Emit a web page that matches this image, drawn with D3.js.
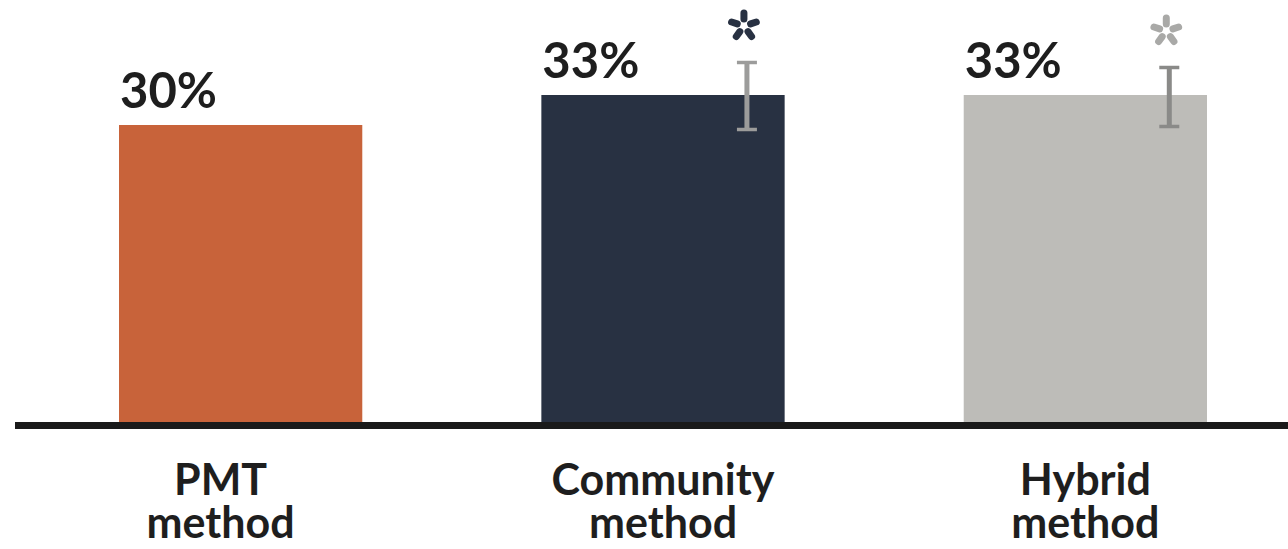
<!DOCTYPE html>
<html>
<head>
<meta charset="utf-8">
<script src="https://cdn.jsdelivr.net/npm/d3@7"></script>
<style>
  html, body { margin: 0; padding: 0; background: #ffffff; }
  svg { display: block; }
</style>
</head>
<body>
<script>
// ---- data ----
const categories = ["PMT method", "Community method", "Hybrid method"];
const values = [30, 33, 33];
const valueLabels = ["30%", "33%", "33%"];
const errLow = [null, 29.4, 29.7];
const errHigh = [null, 36.4, 35.9];
const significant = [false, true, true];

// ---- styles ----
const W = 1288, H = 549;
const barColors = ["#C8633A", "#283142", "#BDBCB8"];
const errColors = [null, "#9c9c9b", "#8a8a88"];
const starColors = [null, "#283142", "#a9a9a7"];
const font = "Lato, 'Open Sans', 'DejaVu Sans', sans-serif";

const svg = d3.select("body").append("svg").attr("width", W).attr("height", H);

const x = d3.scaleBand().domain(categories).range([119, 1207]).paddingInner(0.424).paddingOuter(0);
const y = d3.scaleLinear().domain([0, 42.5]).range([425, 0]);

const data = categories.map((c, i) => ({
  c, v: values[i], label: valueLabels[i], lo: errLow[i], hi: errHigh[i], sig: significant[i], i
}));

// bars
svg.selectAll("rect.bar").data(data).enter().append("rect")
  .attr("class", "bar")
  .attr("x", d => x(d.c))
  .attr("y", d => y(d.v))
  .attr("width", x.bandwidth())
  .attr("height", d => y(0) - y(d.v))
  .attr("fill", d => barColors[d.i]);

// value labels
svg.selectAll("text.val").data(data).enter().append("text")
  .attr("class", "val")
  .attr("x", d => x(d.c) + 1)
  .attr("y", d => y(d.v) - 17)
  .attr("font-family", font)
  .attr("font-weight", 700)
  .attr("font-size", 49)
  .attr("fill", "#1e1e1e")
  .text(d => d.label);

// error bars
const errData = data.filter(d => d.lo != null);
const ex = d => x(d.c) + x.bandwidth() * 0.845;
const eg = svg.selectAll("g.err").data(errData).enter().append("g").attr("class", "err");
eg.append("line")
  .attr("x1", ex).attr("x2", ex)
  .attr("y1", d => y(d.hi)).attr("y2", d => y(d.lo))
  .attr("stroke", d => errColors[d.i]).attr("stroke-width", 5);
eg.append("line")
  .attr("x1", d => ex(d) - 10).attr("x2", d => ex(d) + 10)
  .attr("y1", d => y(d.hi) + 1.5).attr("y2", d => y(d.hi) + 1.5)
  .attr("stroke", d => errColors[d.i]).attr("stroke-width", 3.5);
eg.append("line")
  .attr("x1", d => ex(d) - 10).attr("x2", d => ex(d) + 10)
  .attr("y1", d => y(d.lo) - 1.5).attr("y2", d => y(d.lo) - 1.5)
  .attr("stroke", d => errColors[d.i]).attr("stroke-width", 3.5);

// asterisks
const starData = data.filter(d => d.sig);
const sg = svg.selectAll("g.star").data(starData).enter().append("g")
  .attr("class", "star")
  .attr("transform", d => `translate(${ex(d) - 3},${y(d.hi) - 35})`);
sg.each(function(d) {
  const g = d3.select(this);
  for (let k = 0; k < 5; k++) {
    const a = -Math.PI / 2 + k * 2 * Math.PI / 5;
    g.append("line")
      .attr("x1", Math.cos(a) * 7).attr("y1", Math.sin(a) * 7)
      .attr("x2", Math.cos(a) * 13).attr("y2", Math.sin(a) * 13)
      .attr("stroke", starColors[d.i])
      .attr("stroke-width", 7)
      .attr("stroke-linecap", "round");
  }
});

// baseline
svg.append("line")
  .attr("x1", 15).attr("x2", W)
  .attr("y1", y(0) + 0.5).attr("y2", y(0) + 0.5)
  .attr("stroke", "#1a1a1a").attr("stroke-width", 7);

// category labels
const cl = svg.selectAll("text.cat").data(data).enter().append("text")
  .attr("class", "cat")
  .attr("x", d => x(d.c) + x.bandwidth() / 2 + (d.i === 0 ? -20 : 0))
  .attr("y", 495)
  .attr("text-anchor", "middle")
  .attr("font-family", font)
  .attr("font-weight", 700)
  .attr("font-size", 43)
  .attr("fill", "#1e1e1e");
cl.each(function(d) {
  const parts = d.c.split(" ");
  const t = d3.select(this);
  const cx = +t.attr("x");
  parts.forEach((p, j) => {
    t.append("tspan").attr("x", cx).attr("dy", j === 0 ? 0 : 43).text(p);
  });
});
</script>
</body>
</html>
